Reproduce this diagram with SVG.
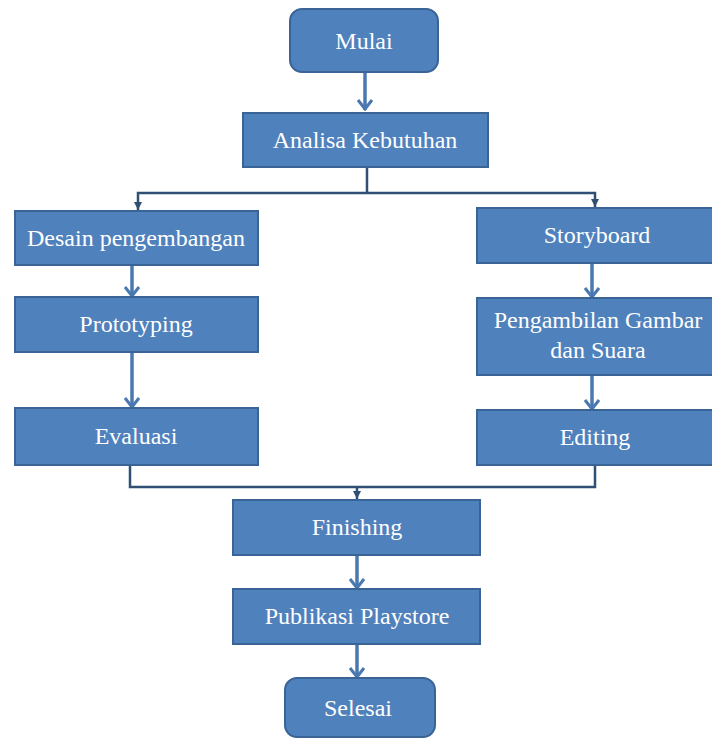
<svg xmlns="http://www.w3.org/2000/svg" width="712" height="740" viewBox="0 0 712 740">
<style>
.box{fill:#4F81BD;stroke:#3A6396;stroke-width:2}
.t{font-family:"Liberation Serif","Times New Roman",serif;font-size:24px;fill:#ffffff;text-anchor:middle}
.arr{fill:none;stroke:#4A78B0;stroke-width:3.5}
.ln{fill:none;stroke:#2F4F73;stroke-width:2.5}
</style>
<defs>
<marker id="v" viewBox="0 0 12 16" refX="11" refY="8" markerWidth="12" markerHeight="16" markerUnits="userSpaceOnUse" orient="auto">
<path d="M1 1 L10 8 L1 15" fill="none" stroke="#4A78B0" stroke-width="3"/>
</marker>
<marker id="s" viewBox="0 0 8 8" refX="8" refY="4" markerWidth="8" markerHeight="8" markerUnits="userSpaceOnUse" orient="auto">
<path d="M0 0 L8 4 L0 8 Z" fill="#2F4F73"/>
</marker>
</defs>
<rect width="712" height="740" fill="#ffffff"/>
<g id="connectors">
<line class="arr" x1="365" y1="72" x2="365" y2="110" marker-end="url(#v)"/>
<polyline class="ln" points="367,167 367,193"/>
<polyline class="ln" points="367,193 138,193 138,210" marker-end="url(#s)"/>
<polyline class="ln" points="367,193 595,193 595,207" marker-end="url(#s)"/>
<line class="arr" x1="132" y1="265" x2="132" y2="297" marker-end="url(#v)"/>
<line class="arr" x1="132" y1="352" x2="132" y2="408" marker-end="url(#v)"/>
<line class="arr" x1="592" y1="263" x2="592" y2="298" marker-end="url(#v)"/>
<line class="arr" x1="592" y1="375" x2="592" y2="410" marker-end="url(#v)"/>
<polyline class="ln" points="130,465 130,487 595,487 595,465"/>
<line class="ln" x1="357" y1="487" x2="357" y2="499" marker-end="url(#s)"/>
<line class="arr" x1="357" y1="555" x2="357" y2="589" marker-end="url(#v)"/>
<line class="arr" x1="357" y1="644" x2="357" y2="678" marker-end="url(#v)"/>
</g>
<g id="mulai"><rect class="box" x="290" y="9" width="148" height="63" rx="12"/><text class="t" x="364" y="49">Mulai</text></g>
<g id="analisa"><rect class="box" x="243" y="113" width="245" height="54"/><text class="t" x="365" y="148">Analisa Kebutuhan</text></g>
<g id="desain"><rect class="box" x="15" y="211" width="243" height="54"/><text class="t" x="136" y="246">Desain pengembangan</text></g>
<g id="prototyping"><rect class="box" x="15" y="297" width="243" height="55"/><text class="t" x="136" y="332">Prototyping</text></g>
<g id="evaluasi"><rect class="box" x="15" y="408" width="243" height="57"/><text class="t" x="136" y="444">Evaluasi</text></g>
<g id="storyboard"><rect class="box" x="477" y="208" width="240" height="55"/><text class="t" x="597" y="243">Storyboard</text></g>
<g id="pengambilan"><rect class="box" x="477" y="298" width="240" height="77"/><text class="t" x="598" y="328">Pengambilan Gambar</text><text class="t" x="598" y="358">dan Suara</text></g>
<g id="editing"><rect class="box" x="477" y="410" width="240" height="55"/><text class="t" x="595" y="445">Editing</text></g>
<g id="finishing"><rect class="box" x="233" y="500" width="247" height="55"/><text class="t" x="357" y="535">Finishing</text></g>
<g id="publikasi"><rect class="box" x="233" y="589" width="247" height="55"/><text class="t" x="357" y="624">Publikasi Playstore</text></g>
<g id="selesai"><rect class="box" x="285" y="678" width="150" height="59" rx="12"/><text class="t" x="358" y="716">Selesai</text></g>
</svg>
